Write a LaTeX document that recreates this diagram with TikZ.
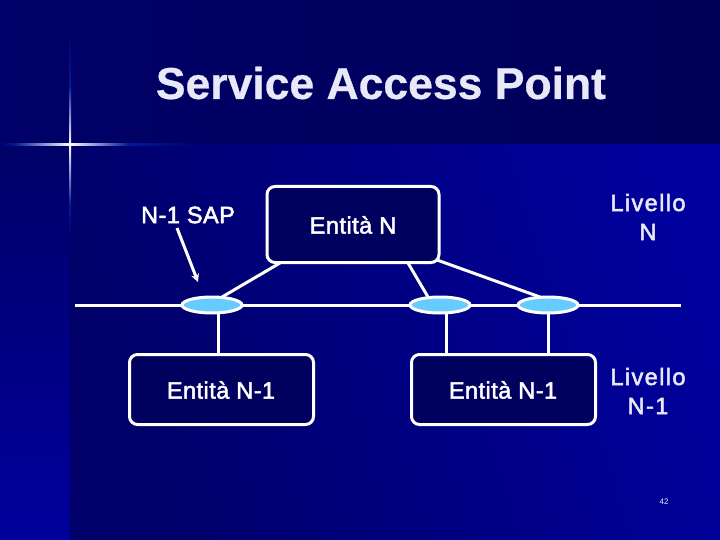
\documentclass[tikz,border=0pt]{standalone}
\usepackage{fontspec}
\setmainfont{Liberation Sans}
\newfontfamily\titlefont[FakeBold=0.6]{Liberation Sans Bold}
\newfontfamily\labelfont[FakeBold=2.2,LetterSpace=2]{Liberation Sans}
\newfontfamily\levelfont[FakeBold=2.2,LetterSpace=6]{Liberation Sans}
\usetikzlibrary{arrows.meta,shapes.geometric}
\definecolor{navy}{HTML}{000068}
\definecolor{navyR}{HTML}{000058}
\definecolor{mainblue}{HTML}{00009C}
\definecolor{maindark}{HTML}{000068}
\definecolor{leftbot}{HTML}{00009C}
\definecolor{boxfill}{HTML}{00005E}
\definecolor{sapfill}{HTML}{66CCFF}
\definecolor{txt}{HTML}{E8E8F6}
\definecolor{glow}{HTML}{2255CC}
\definecolor{glowfaint}{HTML}{001A99}
\tikzset{
  wire/.style={draw=white,line width=3pt},
  entbox/.style={draw=white,line width=3pt,rounded corners=8pt,fill=boxfill,inner sep=0pt},
  sap/.style={ellipse,draw=white,line width=3pt,fill=sapfill,minimum width=60pt,minimum height=16pt,inner sep=0pt},
  label/.style={text=white,font=\labelfont\fontsize{23.5}{26}\selectfont,align=center,inner sep=0pt},
  level/.style={text=txt,font=\levelfont\fontsize{23.5}{29}\selectfont,align=center,inner sep=0pt}
}
\begin{document}
\begin{tikzpicture}[x=1pt,y=-1pt]
\useasboundingbox (0,0) rectangle (720,540);
% background
\shade[left color=navy,right color=navyR] (0,0) rectangle (720,145);
\shade[top color=maindark,bottom color=leftbot] (0,145) rectangle (70,540);
\shade[top color=mainblue,bottom color=maindark,shading angle=-72] (70,145) rectangle (720,540);
% star
\shade[left color=navy,right color=glowfaint] (0,144) rectangle (15,146);
\shade[left color=glowfaint,middle color=glow,right color=white] (15,144) rectangle (70,146);
\shade[left color=white,middle color=glow,right color=glowfaint] (70,144) rectangle (128,146);
\shade[left color=glowfaint,right color=navy] (128,144) rectangle (200,146);
\shade[top color=navy,bottom color=glowfaint] (69,30) rectangle (71,85);
\shade[top color=glowfaint,middle color=glow,bottom color=white] (69,85) rectangle (71,145);
\shade[top color=white,middle color=glow,bottom color=glowfaint] (69,145) rectangle (71,205);
\shade[top color=glowfaint,bottom color=maindark] (69,205) rectangle (71,240);
% title
\node[text=txt,font=\titlefont\fontsize{44.5}{50}\selectfont,inner sep=0pt] (title) at (381,83) {Service Access Point};
% line and SAPs
\coordinate (lineL) at (75,305);
\coordinate (lineR) at (681,305);
\draw[wire] (lineL) -- (lineR);
\node[sap] (s1) at (212,305) {};
\node[sap] (s2) at (440,305) {};
\node[sap] (s3) at (548,305) {};
% boxes
\node[entbox,minimum width=172pt,minimum height=76pt] (en) at (353,224.5) {};
\node[entbox,minimum width=184pt,minimum height=70pt] (e1) at (221.5,389.5) {};
\node[entbox,minimum width=184pt,minimum height=70pt] (e2) at (503.5,389.5) {};
\node[label] (ent) at (353,225) {Entità N};
\node[label] (e1t) at (221,390) {Entità N-1};
\node[label] (e2t) at (503,390) {Entità N-1};
\node[label] (sapt) at (188,215) {N-1 SAP};
\node[level] (ln) at (648,217) {Livello\\N};
\node[level] (ln1) at (648,391) {Livello\\N-1};
\node[text=txt,font=\fontsize{8}{10}\selectfont,inner sep=0pt] (pg) at (664,502) {42};
% connectors
\coordinate (a1) at (280,263);
\coordinate (a2) at (408,263);
\coordinate (a3) at (437,260);
\coordinate (b1) at (222,297);
\coordinate (b2) at (428,297);
\coordinate (b3) at (540,297);
\draw[wire] (a1) -- (b1);
\draw[wire] (a2) -- (b2);
\draw[wire] (a3) -- (b3);
\coordinate (c1) at (218,313);
\coordinate (c2) at (446,313);
\coordinate (c3) at (548,313);
\draw[wire] (c1) -- (c1 |- e1.north);
\draw[wire] (c2) -- (c2 |- e2.north);
\draw[wire] (c3) -- (c3 |- e2.north);
\coordinate (arrowS) at (177,228);
\coordinate (arrowE) at (198,282);
\draw[wire,-{Stealth[length=8pt,width=8pt]}] (arrowS) -- (arrowE);
\end{tikzpicture}
\end{document}
